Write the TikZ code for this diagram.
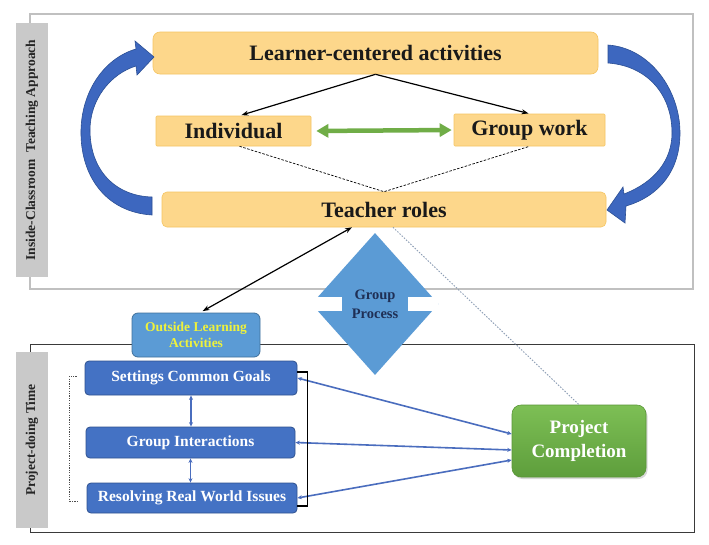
\documentclass[tikz,border=0pt]{standalone}
\usepackage{fontspec}
\setmainfont{Liberation Serif}
\usetikzlibrary{shapes.geometric,arrows.meta,calc,shadows}
\definecolor{orfill}{HTML}{FDD78B}
\definecolor{ordraw}{HTML}{F5C563}
\definecolor{bfill}{HTML}{4472C4}
\definecolor{bdraw}{HTML}{2F528F}
\definecolor{lbfill}{HTML}{5B9BD5}
\definecolor{lbdraw}{HTML}{41719C}
\definecolor{gtop}{HTML}{7DBF55}
\definecolor{gbot}{HTML}{5E9E3C}
\definecolor{gdraw}{HTML}{5A9638}
\definecolor{grarrow}{HTML}{70AD47}
\definecolor{arrblue}{HTML}{4A6DBE}
\definecolor{curvblue}{HTML}{3D67BF}
\definecolor{curvdraw}{HTML}{2B4F94}
\definecolor{labgray}{HTML}{C9C9C9}
\definecolor{frgray}{HTML}{C0C0C0}
\definecolor{frdark}{HTML}{3A3A3A}
\definecolor{ytext}{HTML}{EEF23C}
\definecolor{navy}{HTML}{1F2F55}
\definecolor{dotgray}{HTML}{8C9DB5}
\begin{document}
\begin{tikzpicture}[x=1pt,y=-1pt,
  orbox/.style={draw=ordraw, fill=orfill, line width=0.6pt, rounded corners=3pt, inner sep=0pt,
    font=\bfseries\fontsize{22}{26}\selectfont, text=black!90},
  bbox/.style={draw=bdraw, fill=bfill, line width=0.8pt, rounded corners=4pt, inner sep=0pt,
    font=\bfseries\fontsize{15.5}{18}\selectfont, text=white},
  lab/.style={fill=labgray, rotate=90, inner sep=0pt,
    font=\bfseries\fontsize{13.5}{16}\selectfont, text=black!85},
  blk/.style={line width=1.2pt, {Stealth[length=7pt,width=5pt]}-{Stealth[length=7pt,width=5pt]}},
  blkone/.style={line width=1.2pt, -{Stealth[length=7pt,width=5pt]}},
  barr/.style={arrblue, line width=1.6pt, {Stealth[length=4.5pt,width=4pt]}-{Stealth[length=4.5pt,width=4pt]}},
  curv/.style={fill=curvblue, draw=curvdraw, line width=0.6pt}
]
\useasboundingbox (0,0) rectangle (709,544);
\fill[white] (0,0) rectangle (709,544);

% frames
\draw[frgray, line width=1.2pt] (30,14) rectangle (693,289);
\draw[frdark, line width=1pt] (30,344) rectangle (694,532);

% side labels
\node[lab, minimum width=254, minimum height=32] (lab1) at (32,150) {Inside-Classroom\ \ Teaching Approach};
\node[lab, minimum width=176, minimum height=32] (lab2) at (32,440) {Project-doing Time};

% top boxes
\node[orbox, rounded corners=7pt, minimum width=445, minimum height=42] (lc) at (375.5,53) {Learner-centered activities};
\node[orbox, rounded corners=1pt, minimum width=155, minimum height=30] (ind) at (233.5,131) {Individual};
\node[orbox, rounded corners=1pt, minimum width=151, minimum height=32] (gw) at (529.5,130) {Group work};
\node[orbox, rounded corners=5pt, minimum width=444, minimum height=35] (tr) at (384,209.5) {Teacher roles};

% curved arrows
\path[curv]
 (152,215) .. controls (105,212) and (80,175) .. (81,130)
 .. controls (82,90) and (105,58) .. (136,49)
 -- (135,41) -- (154,57) -- (137,75) -- (136,66)
 .. controls (110,74) and (90,100) .. (90,130)
 .. controls (90,170) and (115,196) .. (152,197) -- cycle;
\path[curv]
 (608,45) .. controls (650,48) and (680,90) .. (680,133)
 .. controls (680,170) and (660,196) .. (626,206)
 -- (625,223) -- (607,210) -- (623,187) -- (624,194)
 .. controls (655,182) and (672,160) .. (672,133)
 .. controls (672,95) and (648,66) .. (608,63) -- cycle;

% top connectors
\draw[blkone, shorten >=2pt] (lc.south) -- ([xshift=6pt]ind.north);
\draw[blkone, shorten >=1pt] (lc.south) -- (gw.north);
\draw[grarrow, line width=4.5pt, {Triangle[length=12pt,width=13pt]}-{Triangle[length=12pt,width=13pt]}, shorten <=5pt, shorten >=2pt] (ind.east) -- (gw.west);
\draw[line width=0.7pt, dash pattern=on 2.5pt off 1.5pt] ([xshift=6pt]ind.south) -- (tr.north) -- (gw.south);

% group process diamond
\node[diamond, fill=lbfill, minimum width=127, minimum height=142, inner sep=0pt, align=center,
  font=\bfseries\fontsize{14.5}{19}\selectfont, text=navy] (gp) at (375,304) {Group\\Process};
\fill[white] (311,297) rectangle (342,311);
\fill[white] (408,297) rectangle (438,311);

% outside learning
\node[draw=lbdraw, fill=lbfill, line width=0.8pt, rounded corners=6pt, minimum width=128, minimum height=44,
  inner sep=0pt, align=center, font=\bfseries\fontsize{13.5}{16}\selectfont, text=ytext] (ola) at (196,335) {Outside Learning\\Activities};

% bottom boxes
\node[bbox, minimum width=212, minimum height=34] (sc) at (191,378) {Settings Common Goals};
\node[bbox, minimum width=209, minimum height=31] (gi) at (190.5,442.5) {Group Interactions};
\node[bbox, minimum width=210, minimum height=30] (rw) at (192,498) {Resolving Real World Issues};

\node[rounded corners=9pt, top color=gtop, bottom color=gbot, draw=gdraw, line width=0.6pt,
  drop shadow={opacity=0.3, shadow xshift=1.5pt, shadow yshift=-2pt},
  minimum width=134, minimum height=72, inner sep=0pt, align=center,
  font=\bfseries\fontsize{19}{24}\selectfont, text=white] (pc) at (579,441) {Project\\Completion};

% connectors
\draw[blk, shorten <=3pt] ([xshift=4pt]ola.north) -- ([xshift=-32pt]tr.south);
\draw[dotgray, line width=0.9pt, dash pattern=on 1.5pt off 1.5pt] ([xshift=9pt]tr.south) -- (pc.north);

\draw[barr] (sc.south) -- (sc.south |- gi.north);
\draw[barr] (gi.north |- gi.south) -- (gi.north |- rw.north);
\draw[barr] (sc.east) -- ($(pc.west)+(0,-7)$);
\draw[barr] (gi.east) -- ($(pc.west)+(0,9)$);
\draw[barr] (rw.east) -- ($(pc.west)+(0,19)$);

\draw[line width=1.3pt] ($(sc.east)+(0,-6)$) -- ++(10,0) |- ($(rw.east)+(0,8)$);
\draw[black!70, line width=0.8pt, dash pattern=on 1.2pt off 1.2pt] ($(sc.west)+(-8,-2)$) -- ++(-7,0) |- ($(rw.west)+(-8,3)$);
\end{tikzpicture}
\end{document}
